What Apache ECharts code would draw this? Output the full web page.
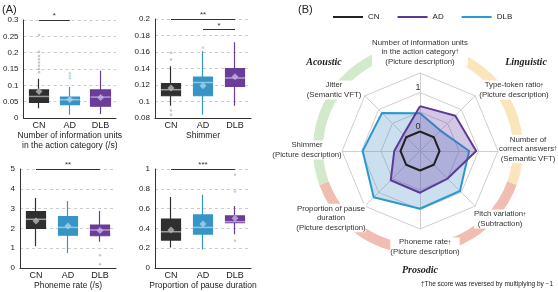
<!DOCTYPE html>
<html>
<head>
<meta charset="utf-8">
<script src="https://cdn.jsdelivr.net/npm/echarts@6/dist/echarts.min.js"></script>
<style>
html, body { margin: 0; padding: 0; background: #fff; }
#chart { width: 558px; height: 292px; }
</style>
</head>
<body>
<div id="chart"></div>
<script>
const groups = ['CN', 'AD', 'DLB'];

// panel A, box values per group: [min, Q1, median, Q3, max]
const infoBox = [[0.030, 0.048, 0.066, 0.086, 0.120], [0.010, 0.041, 0.056, 0.064, 0.095], [0.012, 0.036, 0.064, 0.086, 0.145]];
const infoMean = [0.081, 0.057, 0.063];
const infoOut = [[0.254, 0.203, 0.19, 0.18, 0.17, 0.16, 0.15, 0.14], [0.137, 0.129, 0.122], []];
const infoSig = [['CN', 'AD', 0.3, '*']];

const shimmerBox = [[0.095, 0.107, 0.1143, 0.1216, 0.1426], [0.084, 0.107, 0.123, 0.1297, 0.161], [0.095, 0.1183, 0.1285, 0.1398, 0.1717]];
const shimmerMean = [0.1164, 0.119, 0.130];
const shimmerOut = [[0.159, 0.151, 0.089, 0.084], [0.1656], []];
const shimmerSig = [['CN', 'DLB', 0.2, '**'], ['AD', 'DLB', 0.187, '*']];

const phonemeBox = [[1.1, 2.0, 2.46, 2.85, 3.53], [0.76, 1.66, 2.05, 2.59, 3.39], [1.32, 1.63, 1.92, 2.17, 2.88]];
const phonemeMean = [2.37, 2.12, 1.9];
const phonemeOut = [[], [], [0.65, 0.19]];
const phonemeSig = [['CN', 'DLB', 5, '**']];

const pauseBox = [[0.207, 0.282, 0.366, 0.495, 0.716], [0.187, 0.343, 0.41, 0.536, 0.74], [0.34, 0.458, 0.468, 0.526, 0.627]];
const pauseMean = [0.383, 0.444, 0.502];
const pauseOut = [[], [], [0.943, 0.773, 0.275]];
const pauseSig = [['CN', 'DLB', 1, '***']];

const panelTitles = ['Number of information units\nin the action category (/s)', 'Shimmer', 'Phoneme rate (/s)', 'Proportion of pause duration'];
const panelMin = [0, 0.08, 0, 0];
const panelMax = [0.3, 0.2, 5, 1];
const panelStep = [0.05, 0.02, 1, 0.2];

// panel B, radar (indicators in counter-clockwise order from the top)
const radarNames = [
  'Number of information units\nin the action category†\n(Picture description)',
  'Jitter\n(Semantic VFT)',
  'Shimmer\n(Picture description)',
  'Proportion of pause\nduration\n(Picture description)',
  'Phoneme rate†\n(Picture description)',
  'Pitch variation†\n(Subtraction)',
  'Number of\ncorrect answers†\n(Semantic VFT)',
  'Type-token ratio†\n(Picture description)'
];
const radarCN = [0, 0, 0, 0, 0, 0, 0, 0];
const radarAD = [0.65, 0.1, 0.16, 0.56, 0.57, 0.5, 0.94, 0.78];
const radarDLB = [0.47, 0.88, 0.97, 1.18, 0.98, 0.95, 0.76, 0.24];
const radarTicks = [0, 1];
const ringNames = ['Linguistic', 'Prosodic', 'Acoustic'];
const ringSpans = [110, 140, 110];

const boxFill = ['#2f2f2f', '#3794c6', '#6a3d9a'];
const boxLight = ['#b8b8b8', '#a8d3ec', '#c6b2e0'];
const grids = [
  { left: 20, top: 20, width: 96, height: 98 },
  { left: 155, top: 19, width: 96, height: 99 },
  { left: 20, top: 169, width: 96, height: 99 },
  { left: 155, top: 169, width: 96, height: 99 }
];
const font = 'Liberation Sans';

function panelSeries(i, box, mean, out, sig) {
  const outliers = [];
  out.forEach((vals, k) => vals.forEach(v => outliers.push({ value: [groups[k], v], itemStyle: { color: boxLight[k] } })));
  return [
    {
      type: 'candlestick', xAxisIndex: i, yAxisIndex: i, barWidth: 20, silent: true,
      data: box.map((b, k) => ({ value: [b[1], b[3], b[0], b[4]], itemStyle: { color: boxFill[k], borderColor: boxFill[k], borderWidth: 1.2 } })),
      markLine: {
        silent: true, symbol: 'none', animation: false,
        lineStyle: { color: '#333', width: 1, type: 'solid' },
        label: { show: true, position: 'middle', fontSize: 8, color: '#333', distance: 0, fontFamily: font },
        data: sig.map(([a, b, v, t]) => [{ coord: [a, v], label: { formatter: t } }, { coord: [b, v] }])
      }
    },
    {
      type: 'scatter', xAxisIndex: i, yAxisIndex: i, symbol: 'rect', symbolSize: [20, 1.5], silent: true, z: 3,
      data: box.map((b, k) => ({ value: [groups[k], b[2]], itemStyle: { color: boxLight[k] } }))
    },
    {
      type: 'scatter', xAxisIndex: i, yAxisIndex: i, symbol: 'diamond', symbolSize: 7, silent: true, z: 4,
      data: mean.map((m, k) => ({ value: [groups[k], m], itemStyle: { color: boxLight[k] } }))
    },
    {
      type: 'scatter', xAxisIndex: i, yAxisIndex: i, symbol: 'circle', symbolSize: 2.5, silent: true, z: 3,
      data: outliers
    }
  ];
}

const rMin = -0.5, rMax = 1.5, rCenter = [420, 151], rRadius = 78;
const labelPos = [[420, 52], [334, 90], [307, 150], [331, 218], [425, 247], [500, 219], [528, 149], [514, 90]];

const graphics = [
  { type: 'text', z: 100, style: { text: '(A)', x: 2, y: 10, fill: '#222', font: '11px ' + font, verticalAlign: 'middle' } },
  { type: 'text', z: 100, style: { text: '(B)', x: 298, y: 10, fill: '#222', font: '11px ' + font, verticalAlign: 'middle' } },
  { type: 'text', z: 100, style: { text: 'Acoustic', x: 324, y: 62, fill: '#222', font: 'italic bold 10px Liberation Serif', align: 'center', verticalAlign: 'middle' } },
  { type: 'text', z: 100, style: { text: 'Linguistic', x: 526, y: 62, fill: '#222', font: 'italic bold 10px Liberation Serif', align: 'center', verticalAlign: 'middle' } },
  { type: 'text', z: 100, style: { text: 'Prosodic', x: 420, y: 270, fill: '#222', font: 'italic bold 10px Liberation Serif', align: 'center', verticalAlign: 'middle' } },
  { type: 'text', z: 100, style: { text: '†The score was reversed by multiplying by \u22121', x: 553, y: 284, fill: '#222', font: '6.5px ' + font, align: 'right', verticalAlign: 'middle' } }
];
radarNames.forEach((n, k) => {
  graphics.push({
    type: 'text', z: 100,
    style: {
      text: n.replace('†', '{s|†}'), x: labelPos[k][0], y: labelPos[k][1],
      fill: '#333', fontSize: 7.8, fontFamily: font, lineHeight: 9.5,
      align: 'center', verticalAlign: 'middle', backgroundColor: '#fff',
      rich: { s: { fontSize: 5, fontFamily: font, fill: '#333', lineHeight: 9.5 } }
    }
  });
});
radarTicks.forEach(t => {
  const r = (t - rMin) / (rMax - rMin) * rRadius;
  graphics.push({ type: 'text', z: 100, style: { text: String(t), x: rCenter[0] - 2, y: rCenter[1] - r - 5, fill: '#333', font: '9px ' + font, align: 'center', verticalAlign: 'middle' } });
});

const option = {
  animation: false,
  backgroundColor: '#fff',
  textStyle: { fontFamily: font },
  grid: grids,
  xAxis: grids.map((g, i) => ({
    type: 'category', gridIndex: i, data: groups,
    axisTick: { show: false },
    axisLine: { lineStyle: { color: '#333', width: 1 } },
    axisLabel: { fontSize: 9, color: '#222', margin: 3 },
    name: panelTitles[i], nameLocation: 'middle', nameGap: 13,
    nameTextStyle: { fontSize: 8.5, color: '#222', lineHeight: 10 }
  })),
  yAxis: grids.map((g, i) => ({
    type: 'value', gridIndex: i, min: panelMin[i], max: panelMax[i], interval: panelStep[i],
    axisLine: { show: true, lineStyle: { color: '#333', width: 1 } },
    axisTick: { show: false },
    axisLabel: { fontSize: 8, color: '#222', margin: 5 },
    splitLine: { lineStyle: { color: '#cccccc', type: [3, 3] } }
  })),
  legend: {
    data: groups, left: 333, top: 13, icon: 'rect', itemWidth: 30, itemHeight: 2, itemGap: 18,
    padding: 0, textStyle: { fontSize: 8, color: '#222' }, selectedMode: false
  },
  radar: {
    center: rCenter, radius: rRadius, startAngle: 90, splitNumber: 4, shape: 'polygon',
    indicator: radarNames.map(n => ({ name: n, min: rMin, max: rMax })),
    axisName: { show: false },
    axisLine: { lineStyle: { color: '#cfcfcf', width: 1 } },
    splitLine: { lineStyle: { color: '#cfcfcf', width: 1 } },
    splitArea: { show: false }
  },
  graphic: graphics,
  series: [
    ...panelSeries(0, infoBox, infoMean, infoOut, infoSig),
    ...panelSeries(1, shimmerBox, shimmerMean, shimmerOut, shimmerSig),
    ...panelSeries(2, phonemeBox, phonemeMean, phonemeOut, phonemeSig),
    ...panelSeries(3, pauseBox, pauseMean, pauseOut, pauseSig),
    {
      type: 'pie', center: [418, 149], radius: [95, 105], startAngle: 90, clockwise: true,
      silent: true, z: 1, label: { show: false }, labelLine: { show: false },
      data: ringNames.map((n, k) => ({ name: n, value: ringSpans[k], itemStyle: { color: ['#fbe5bd', '#efbdb2', '#d2e9cc'][k] } }))
    },
    {
      type: 'radar', symbol: 'none', silent: true, z: 3,
      data: [
        { name: 'DLB', value: radarDLB, itemStyle: { color: '#2c9bd1' }, lineStyle: { color: '#2c9bd1', width: 2 }, areaStyle: { color: 'rgba(60,135,195,0.38)' } },
        { name: 'AD', value: radarAD, itemStyle: { color: '#5b3a96' }, lineStyle: { color: '#5b3a96', width: 2 }, areaStyle: { color: 'rgba(105,65,170,0.42)' } },
        { name: 'CN', value: radarCN, itemStyle: { color: '#222' }, lineStyle: { color: '#222', width: 2 } }
      ]
    }
  ]
};

const chart = echarts.init(document.getElementById('chart'), null, { renderer: 'canvas' });
chart.setOption(option);
</script>
</body>
</html>
